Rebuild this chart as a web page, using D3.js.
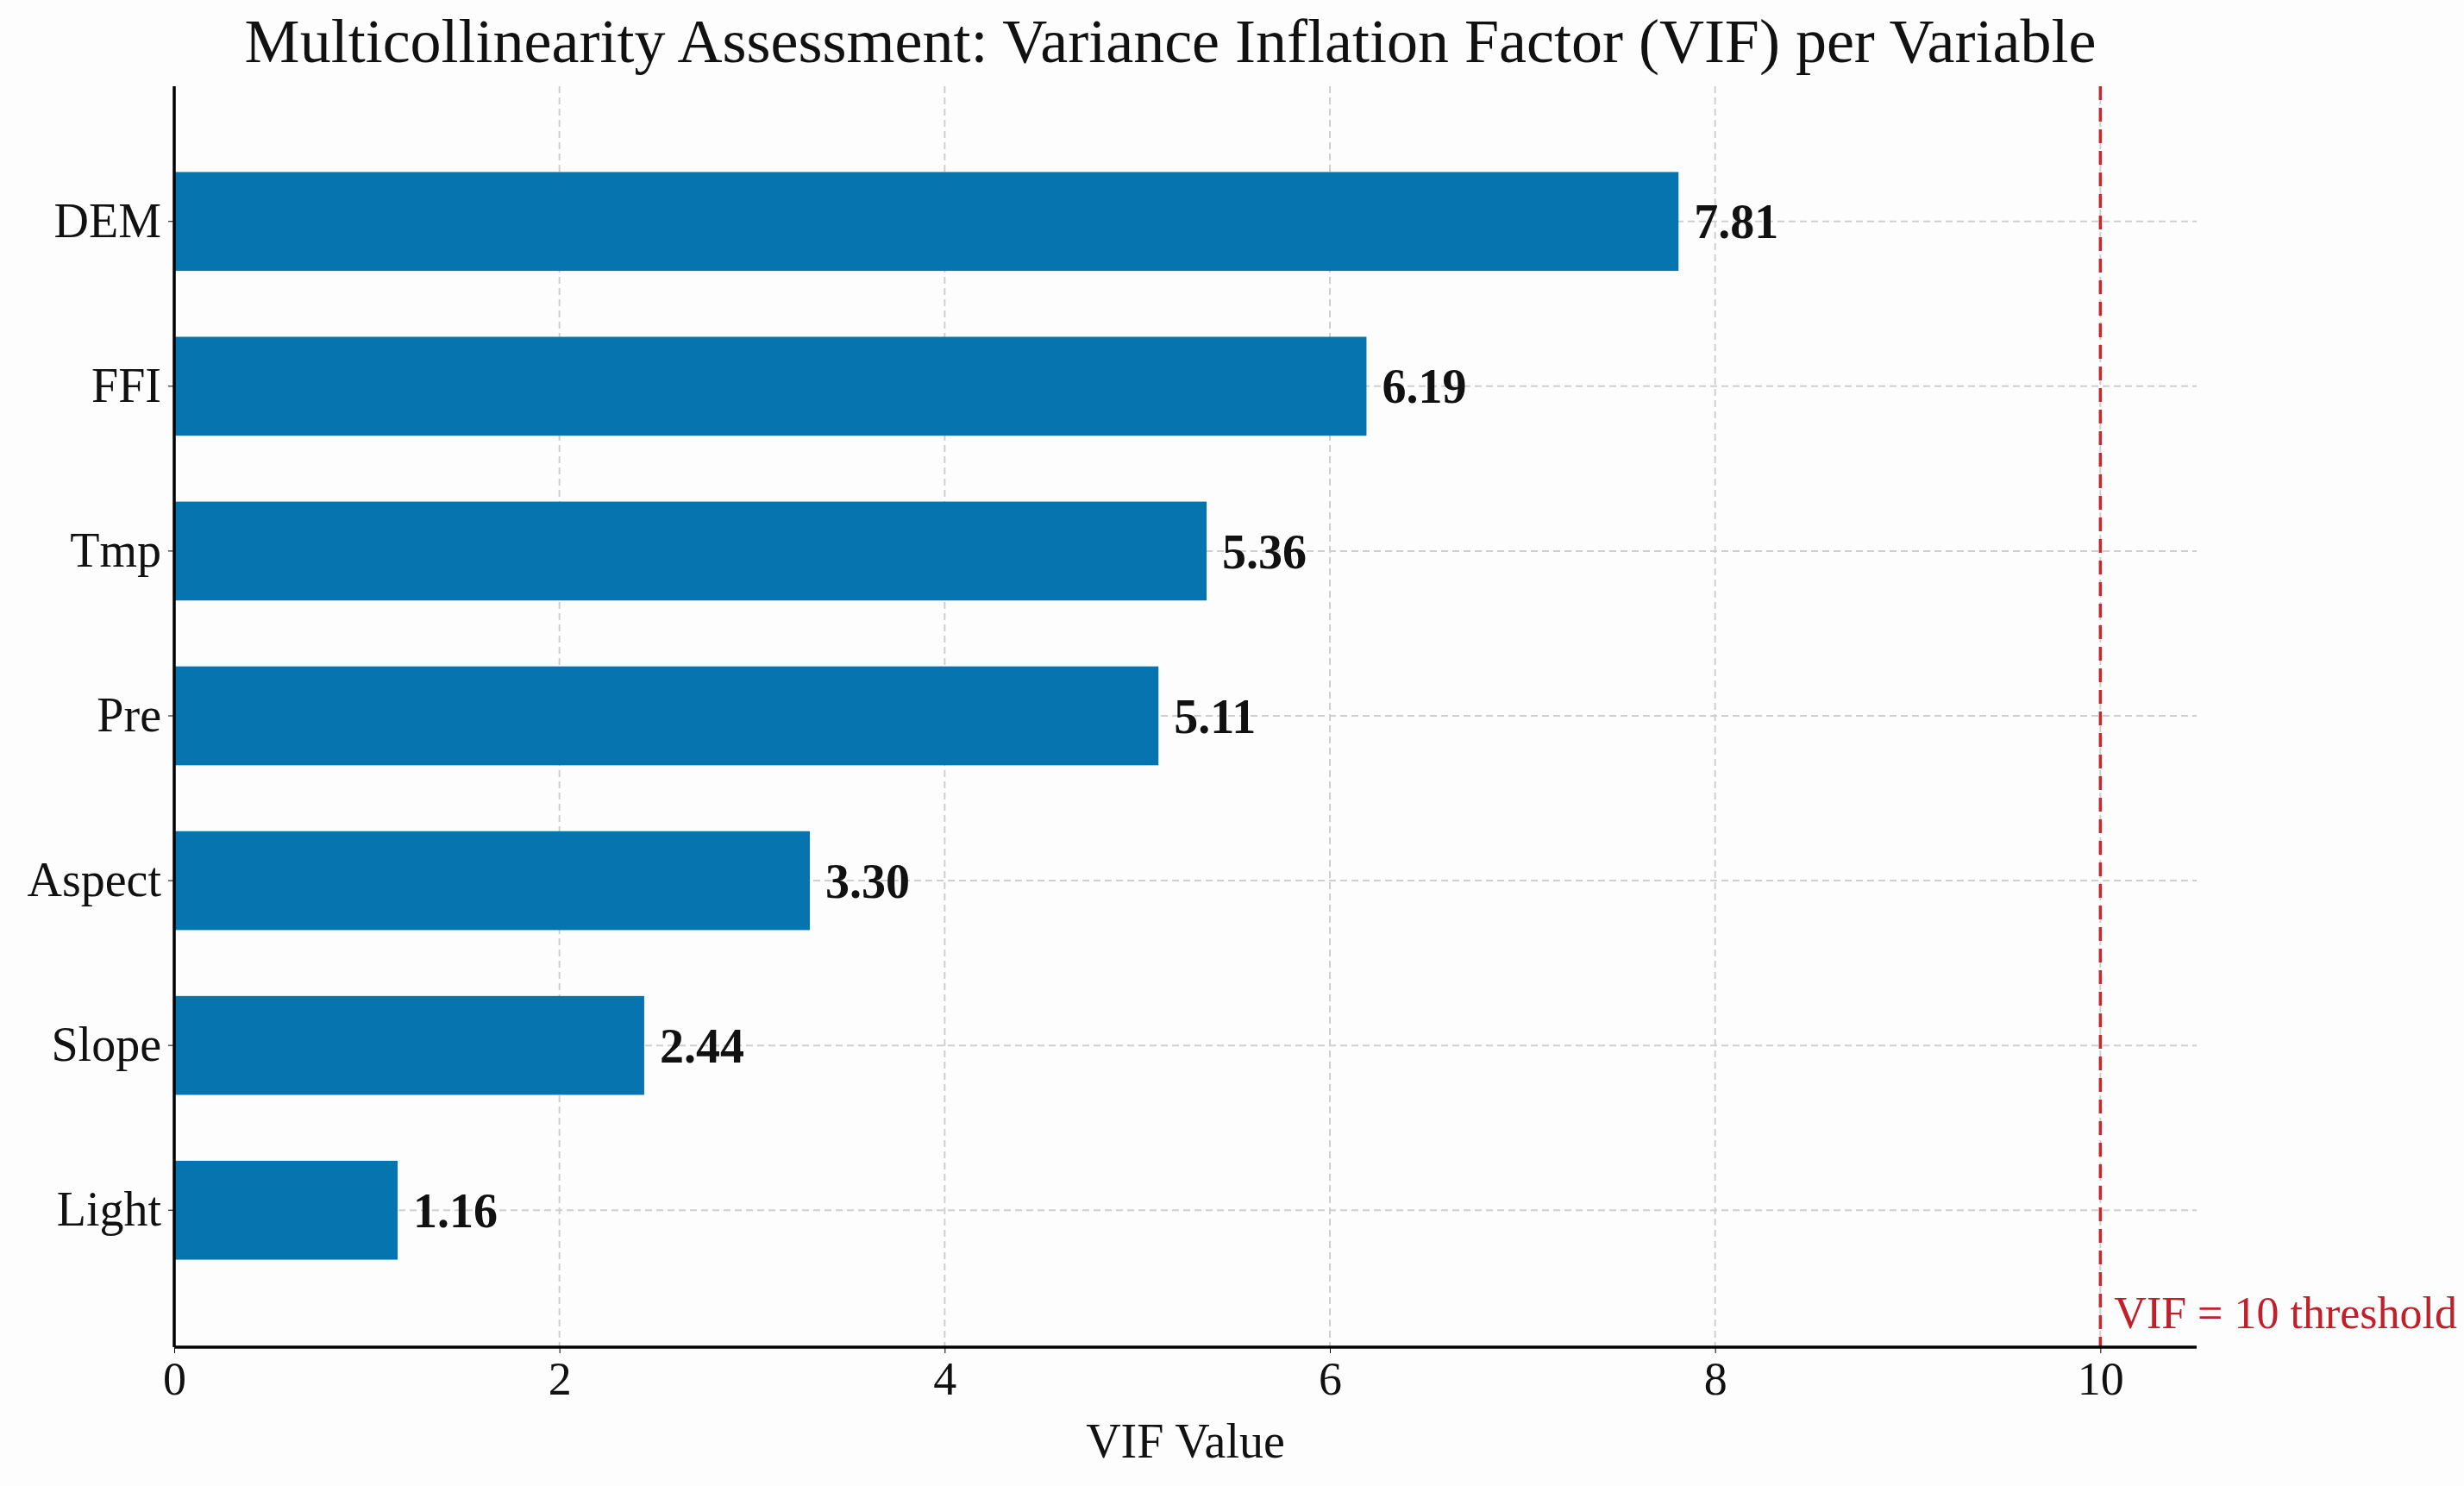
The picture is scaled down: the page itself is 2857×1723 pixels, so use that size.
<!DOCTYPE html>
<html>
<head>
<meta charset="utf-8">
<script src="https://cdn.jsdelivr.net/npm/d3@7"></script>
<style>
  body { margin: 0; background: #fdfdfd; }
  text { font-family: "Liberation Serif", "Times New Roman", serif; }
</style>
</head>
<body>
<svg id="chart" width="2857" height="1723"></svg>
<script>
const variables = ["DEM", "FFI", "Tmp", "Pre", "Aspect", "Slope", "Light"];
const vifValues = [7.81, 6.19, 5.36, 5.11, 3.30, 2.44, 1.16];
const xTicks = [0, 2, 4, 6, 8, 10];
const threshold = 10;

const W = 2857, H = 1723;
const plotLeft = 202, plotRight = 2547, plotTop = 100, plotBottom = 1562;

const svg = d3.select('#chart');
svg.append('rect').attr('width', W).attr('height', H).attr('fill', '#fdfdfd');

// scales
const x = d3.scaleLinear().domain([0, 10.5]).range([plotLeft, plotRight]);
const y = d3.scaleBand().domain(variables).range([123, 1537]).padding(0.4);

// grid
const grid = svg.append('g');
grid.selectAll('line.v').data(xTicks).enter().append('line')
  .attr('x1', d => x(d)).attr('x2', d => x(d))
  .attr('y1', plotTop).attr('y2', plotBottom)
  .attr('stroke', '#cfcfcf').attr('stroke-width', 2).attr('stroke-dasharray', '8,5');
grid.selectAll('line.h').data(variables).enter().append('line')
  .attr('x1', plotLeft).attr('x2', plotRight)
  .attr('y1', d => y(d) + y.bandwidth() / 2).attr('y2', d => y(d) + y.bandwidth() / 2)
  .attr('stroke', '#cfcfcf').attr('stroke-width', 2).attr('stroke-dasharray', '8,5');

// bars
svg.selectAll('rect.bar').data(variables).enter().append('rect')
  .attr('class', 'bar')
  .attr('x', x(0))
  .attr('y', d => y(d))
  .attr('width', (d, i) => x(vifValues[i]) - x(0))
  .attr('height', y.bandwidth())
  .attr('fill', '#0674ae');

// value labels
svg.selectAll('text.val').data(variables).enter().append('text')
  .attr('x', (d, i) => x(vifValues[i]) + 18)
  .attr('y', d => y(d) + y.bandwidth() / 2)
  .attr('dy', '0.35em')
  .attr('font-size', 56).attr('font-weight', 'bold').attr('fill', '#111')
  .text((d, i) => vifValues[i].toFixed(2));

// threshold
svg.append('line')
  .attr('x1', x(threshold)).attr('x2', x(threshold))
  .attr('y1', plotTop).attr('y2', plotBottom)
  .attr('stroke', '#c8282e').attr('stroke-width', 3.5).attr('stroke-dasharray', '16,9');
svg.append('text')
  .attr('x', x(threshold) + 16).attr('y', 1540)
  .attr('font-size', 52).attr('fill', '#c0202a')
  .text('VIF = ' + threshold + ' threshold');

// axes
const xAxis = svg.append('g').attr('transform', `translate(0,${plotBottom})`)
  .call(d3.axisBottom(x).tickValues(xTicks).tickSize(7).tickPadding(10).tickFormat(d3.format('d')));
xAxis.select('.domain').attr('stroke-width', 3.5).attr('d', `M${plotLeft},0H${plotRight}`);
xAxis.selectAll('text').attr('font-size', 54).attr('fill', '#111')
  .style('font-family', '"Liberation Serif", serif');

const yAxis = svg.append('g').attr('transform', `translate(${plotLeft},0)`)
  .call(d3.axisLeft(y).tickSize(7).tickPadding(8));
yAxis.select('.domain').attr('stroke-width', 3.5).attr('d', `M0,${plotTop}V${plotBottom}`);
yAxis.selectAll('text').attr('font-size', 56).attr('fill', '#111')
  .style('font-family', '"Liberation Serif", serif');

// titles
svg.append('text')
  .attr('x', 1357).attr('y', 72).attr('text-anchor', 'middle')
  .attr('font-size', 72).attr('fill', '#111')
  .text('Multicollinearity Assessment: Variance Inflation Factor (VIF) per Variable');
svg.append('text')
  .attr('x', (plotLeft + plotRight) / 2).attr('y', 1690).attr('text-anchor', 'middle')
  .attr('font-size', 56).attr('fill', '#111')
  .text('VIF Value');
</script>
</body>
</html>
